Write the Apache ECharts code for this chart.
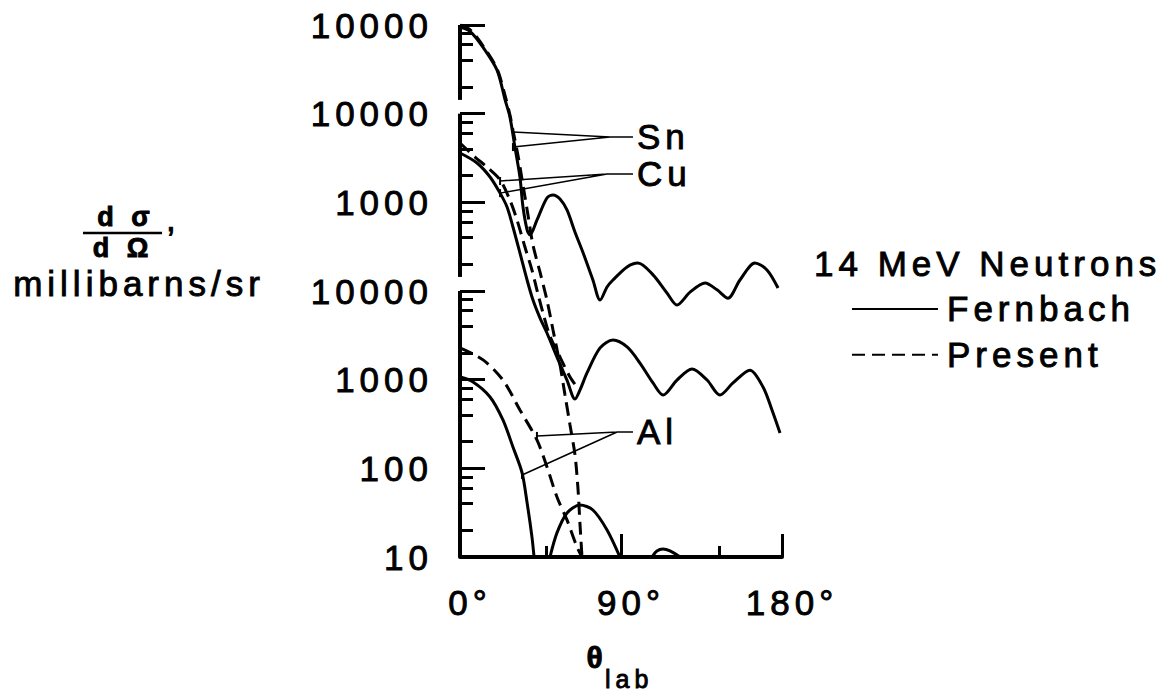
<!DOCTYPE html>
<html>
<head>
<meta charset="utf-8">
<script src="https://cdn.jsdelivr.net/npm/echarts@6/dist/echarts.min.js"></script>
<style>
html,body{margin:0;padding:0;background:#fff;}
#c{width:1170px;height:692px;}
#c text{letter-spacing:5px;}
</style>
</head>
<body>
<div id="c"></div>
<script>
// ---------- data (theta in degrees, plotted value on the stacked log scale) ----------
const xTickValues = [0, 90, 180];
const xTickLabels = ['0°', '90°', '180°'];
const xMinorTickValues = [48, 145];
const yTickValues = [10, 100, 1000, 1e4, 1e5, 1e6, 1e7];
const yTickLabels = ['10', '100', '1000', '10000', '1000', '10000', '10000'];
const yMinorTickValues = [8e6, 6e6, 4e6, 2e6, 8e5, 6e5, 4e5, 2e5, 8e4, 6e4, 4e4, 2e4,
                          8e3, 6e3, 4e3, 2e3, 800, 600, 400, 200, 80, 60, 40, 20];
const axisSegments = [[1e7, 1.43e6], [1e6, 1.44e4], [1e4, 10]];

const snFernbach = [[0,9.5e6],[5.6,8.5e6],[12.9,5.6e6],[20.7,3.1e6],[25.2,1.43e6],[27.9,9.2e5],
  [30.7,4.2e5],[33.5,1.93e5],[35.2,8.9e4],[37.5,4.9e4],[39.1,4.3e4],[43,6.3e4],[48.6,1.12e5],
  [52,1.21e5],[55.9,1.09e5],[59.8,8.2e4],[64.3,4.6e4],[68.8,2.7e4],[74.3,1.33e4],[78.3,7.9e3],
  [82.2,1.11e4],[85.5,1.33e4],[93.4,1.87e4],[99.5,2.07e4],[107.9,1.52e4],[115.7,9.5e3],
  [121.3,6.95e3],[128.6,9.7e3],[137,1.23e4],[143.7,1.03e4],[149.8,8.3e3],[156.5,1.33e4],
  [164.9,2.07e4],[171.6,1.73e4],[177.8,1.08e4]];
const snPresent = [[0,1e7],[6,8.7e6],[12.9,5.8e6],[20.7,3.2e6],[25.2,1.6e6],[28,9.5e5],
  [29.6,6.5e5],[32.4,3.4e5],[35.2,1.57e5],[38,7.2e4],[40.8,3.3e4],[44.7,1.64e4],[48.6,7.9e3],
  [52,3.63e3],[55.9,1.47e3],[58.7,671],[61.5,308],[64.3,141],[66,57],[67.1,23],[68.2,10]];
const cuFernbach = [[0,3.6e5],[9.5,2.78e5],[16.8,1.93e5],[22.4,1.27e5],[26.3,8.85e4],[29.6,5.27e4],
  [33.5,2.69e4],[37.5,1.33e4],[40.8,7.9e3],[44.7,4.97e3],[48.6,3.36e3],[54.2,1.8e3],[59.8,990],
  [64.3,605],[67.1,766],[71,1.19e3],[78.3,2.28e3],[85.5,2.8e3],[93.4,2.34e3],[100.6,1.54e3],
  [107.9,918],[113.5,671],[121.3,991],[129.7,1.32e3],[138.1,991],[145.3,671],[152.6,918],
  [162.1,1.28e3],[169.4,826],[174.4,455],[178.9,250]];
const cuPresent = [[0,4.67e5],[8.4,3.24e5],[15.1,2.5e5],[22.4,1.79e5],[27.9,1.06e5],[31.9,6.3e4],
  [36.3,3.13e4],[40.2,1.73e4],[43,1.03e4],[46.4,5.65e3],[50.3,3.1e3],[55.9,1.8e3],[61.5,1.07e3],
  [65.4,826]];
const alFernbach = [
  [[0,1070],[7.3,942],[16.8,638],[24,351],[29.6,174],[34.7,89],[37.5,41],[40.2,17],[41.4,10]],
  [[50.3,10],[54.2,18.7],[59.8,31.4],[67.1,38.6],[74.3,33.9],[82.2,20.2],[89.4,10]],
  [[107.3,10],[110.1,11.7],[113.5,12.3],[117.4,11.7],[123,10]]
];
const alPresent = [[0,2280],[12.9,1670],[24,990],[33.5,455],[43,209],[48.6,104],[54.2,47.5],
  [59.8,26.2],[65.4,13],[68.2,10]];

// leader lines: [point on dashed curve, apex, point on solid curve], label anchor
const elementNames = ['Sn', 'Cu', 'Al'];
const leaderPoints = [
  [[29.6,6.2e5],[83.9,5.46e5],[29.6,4.2e5]],
  [[22.4,1.74e5],[82.2,2.09e5],[22.4,1.27e5]],
  [[43,232],[87.8,257],[34.7,84]]
];
const leaderLabelAt = [[96.7,5.46e5],[96.7,2.09e5],[96.7,257]];

// ---------- chart ----------
const FONT = '"Liberation Sans", Arial, Helvetica, sans-serif';
const BLACK = '#000';
const TXT = {fontFamily: FONT, fontSize: 35, color: BLACK, fontWeight: 'normal',
             textBorderColor: BLACK, textBorderWidth: 0.9};
const chart = echarts.init(document.getElementById('c'), null, {renderer: 'svg'});

function curve(name, data, dashed) {
  return {
    type: 'line', name: name, data: data, symbol: 'none', smooth: 0.3, z: 4, silent: true,
    lineStyle: {color: BLACK, width: 3, type: dashed ? [13, 7] : 'solid'},
    itemStyle: {color: BLACK}
  };
}
const series = [];
axisSegments.forEach(function (s) {
  series.push({type: 'line', name: 'axis', data: [[0, s[0]], [0, s[1]]], symbol: 'none',
    clip: false, silent: true, z: 6, lineStyle: {color: BLACK, width: 4, cap: 'butt'}});
});
series.push(curve('Fernbach', snFernbach, false));
series.push(curve('Present', snPresent, true));
series.push(curve('Fernbach', cuFernbach, false));
series.push(curve('Present', cuPresent, true));
alFernbach.forEach(function (seg) { series.push(curve('Fernbach', seg, false)); });
series.push(curve('Present', alPresent, true));
elementNames.forEach(function (nm, i) {
  const p = leaderPoints[i];
  series.push({
    type: 'line', name: nm, silent: true, z: 5, clip: false, symbol: 'none', showSymbol: true,
    data: [
      {value: p[0], symbol: 'rect', symbolSize: [2, 8]},
      {value: p[1]},
      {value: p[2], symbol: 'rect', symbolSize: [2, 8]},
      {value: p[1]},
      {value: leaderLabelAt[i]}
    ],
    lineStyle: {color: BLACK, width: 1.5},
    itemStyle: {color: BLACK},
    endLabel: Object.assign({show: true, formatter: nm, distance: 4}, TXT)
  });
});

function gtext(txt, x, y, size, align, vAlign, weight) {
  return {type: 'text', x: x, y: y, style: {
    text: txt, font: (weight || 'normal') + ' ' + size + 'px ' + FONT, fill: BLACK,
    stroke: BLACK, lineWidth: 0.9, textAlign: align, textVerticalAlign: vAlign}};
}

const option = {
  animation: false,
  backgroundColor: '#fff',
  grid: {left: 460, top: 25, width: 322, height: 532, containLabel: false},
  title: {
    text: '14 MeV Neutrons', left: 809, top: 241,
    textStyle: TXT
  },
  legend: {
    data: ['Fernbach', 'Present'], orient: 'vertical', left: 846, top: 286,
    itemWidth: 86, itemHeight: 14, itemGap: 10, selectedMode: false,
    itemStyle: {opacity: 0},
    textStyle: Object.assign({padding: [0, 0, 0, 4]}, TXT)
  },
  xAxis: [{
    type: 'value', min: 0, max: 180, position: 'bottom',
    axisLine: {show: true, onZero: false, lineStyle: {color: BLACK, width: 4}},
    axisTick: {show: true, inside: true, length: 23, customValues: xTickValues, lineStyle: {color: BLACK, width: 3}},
    axisLabel: Object.assign({
      show: true, customValues: xTickValues, margin: 28, padding: [0, 0, 0, 20],
      formatter: function (v) { const i = xTickValues.indexOf(v); return i >= 0 ? xTickLabels[i] : ''; }
    }, TXT),
    splitLine: {show: false}
  }, {
    type: 'value', min: 0, max: 180, position: 'bottom',
    axisLine: {show: false},
    axisTick: {show: true, inside: true, length: 11, customValues: xMinorTickValues, lineStyle: {color: BLACK, width: 3}},
    axisLabel: {show: false}, splitLine: {show: false}
  }],
  yAxis: [{
    type: 'log', logBase: 10, min: 10, max: 1e7, position: 'left',
    axisLine: {show: false},
    axisTick: {show: true, inside: true, length: 25, customValues: yTickValues, lineStyle: {color: BLACK, width: 3}},
    axisLabel: Object.assign({
      show: true, customValues: yTickValues, margin: 27,
      formatter: function (v) {
        for (let i = 0; i < yTickValues.length; i++) {
          if (Math.abs(Math.log10(yTickValues[i]) - Math.log10(v)) < 1e-6) return yTickLabels[i];
        }
        return '';
      }
    }, TXT),
    splitLine: {show: false}
  }, {
    type: 'log', logBase: 10, min: 10, max: 1e7, position: 'left',
    axisLine: {show: false},
    axisTick: {show: true, inside: true, length: 13, customValues: yMinorTickValues, lineStyle: {color: BLACK, width: 3}},
    axisLabel: {show: false}, splitLine: {show: false}
  }],
  graphic: [
    gtext('d σ', 126, 217, 27, 'center', 'middle', 'bold'),
    {type: 'line', shape: {x1: 83, y1: 233, x2: 162, y2: 233}, style: {stroke: BLACK, lineWidth: 2.5}},
    gtext('d Ω', 123, 248, 27, 'center', 'middle', 'bold'),
    gtext(',', 166, 218, 35, 'left', 'middle'),
    gtext('millibarns/sr', 139, 283, 35, 'center', 'middle'),
    gtext('θ', 597, 657, 30, 'center', 'middle', 'bold'),
    gtext('lab', 605, 691, 25, 'left', 'bottom')
  ],
  series: series
};
chart.setOption(option);
</script>
</body>
</html>
